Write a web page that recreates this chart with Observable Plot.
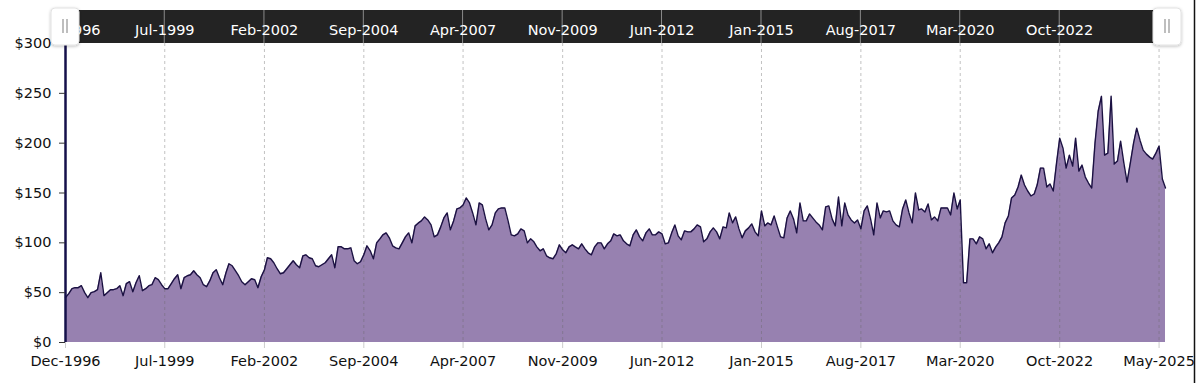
<!DOCTYPE html>
<html><head><meta charset="utf-8">
<script src="https://cdn.jsdelivr.net/npm/d3@7"></script>
<script src="https://cdn.jsdelivr.net/npm/@observablehq/plot@0.6"></script>
<style>
html,body{margin:0;padding:0;background:#fff;}
#chart{position:relative;width:1200px;height:383px;overflow:hidden;}
</style></head><body><div id="chart"></div>
<script>
// Monthly series, first month Dec-1996
const startMonth = "1996-12";
const values = [
45,49,54,55,55,57,50,45,50,51,53,70,47,50,53,53,54,57,47,59,
61,51,60,67,52,54,57,58,65,63,58,54,54,59,64,68,54,65,67,68,
72,68,65,58,56,62,70,73,65,58,70,79,77,72,67,61,58,61,64,63,
55,66,73,85,84,80,74,69,70,74,78,82,78,75,87,88,85,84,77,76,
78,80,84,88,75,96,96,94,94,95,82,79,81,88,97,92,84,100,104,108,
110,105,97,95,94,100,106,110,100,117,120,122,126,123,118,106,108,116,125,130,
113,122,134,135,138,145,140,130,118,140,138,124,113,118,130,134,135,135,122,108,
107,109,114,112,100,104,101,96,92,94,87,85,84,89,98,93,90,96,98,96,
94,99,94,90,88,96,100,100,94,99,102,109,107,108,102,99,97,108,113,106,
102,110,114,108,108,111,109,99,100,110,118,107,103,112,111,111,114,118,116,101,
104,111,115,111,104,116,115,130,120,126,114,105,112,115,119,111,107,132,117,120,
118,127,116,106,105,125,132,124,110,140,122,122,129,125,121,118,113,136,137,124,
117,146,117,140,128,123,120,123,114,132,137,124,108,140,125,132,131,132,122,118,
116,134,143,130,120,150,133,134,131,139,123,126,122,135,135,135,128,150,134,143,
60,60,104,104,99,106,104,94,99,90,96,100,106,120,127,145,148,156,168,158,
152,147,149,158,175,175,156,159,152,180,205,195,175,188,177,205,172,178,166,160,
155,200,232,247,188,190,247,179,182,202,180,161,180,200,215,203,193,189,186,184,
190,197,164,155
];
const tickLabels = ["Dec-1996","Jul-1999","Feb-2002","Sep-2004","Apr-2007","Nov-2009","Jun-2012","Jan-2015","Aug-2017","Mar-2020","Oct-2022","May-2025"];
const topTickLabels = tickLabels.slice(0, -1);
const yTicks = [0, 50, 100, 150, 200, 250, 300];

const parseTick = d3.utcParse("%b-%Y");
const fmtTick = d3.utcFormat("%b-%Y");
const start = d3.utcParse("%Y-%m")(startMonth);
const data = values.map((v, i) => ({date: d3.utcMonth.offset(start, i), value: v}));
const tickDates = tickLabels.map(parseTick);
const topTickDates = topTickLabels.map(parseTick);

const fillColor = "#9781b0", lineColor = "#1b1142";

const plot = Plot.plot({
  width: 1200, height: 383,
  marginTop: 43, marginBottom: 41, marginLeft: 65, marginRight: 35,
  style: {fontFamily: "'DejaVu Sans', Verdana, sans-serif", fontSize: "14.5px", color: "#111", background: "transparent"},
  x: {type: "utc", domain: [data[0].date, data[data.length - 1].date]},
  y: {domain: [0, 300]},
  marks: [
    Plot.areaY(data, {x: "date", y: "value", fill: fillColor}),
    Plot.ruleX(tickDates, {stroke: "#666", strokeOpacity: 0.4, strokeDasharray: "3,3"}),
    Plot.lineY(data, {x: "date", y: "value", stroke: lineColor, strokeWidth: 1.4}),
    Plot.ruleX([data[0].date], {stroke: "#15104a", strokeWidth: 2.5}),
    Plot.axisX({ticks: tickDates, tickFormat: fmtTick, tickSize: 6, tickPadding: 7, stroke: "#ccc", fill: "#111", label: null}),
    Plot.axisY({ticks: yTicks, tickFormat: d => "$" + d, tickSize: 6, tickPadding: 8, stroke: "#333", fill: "#111", label: null}),
    Plot.axisX({anchor: "top", ticks: topTickDates, tickFormat: fmtTick, tickSize: 0, tickPadding: 9, fill: "white", label: null})
  ]
});

document.getElementById("chart").appendChild(plot);

// navigator decorations
const svg = d3.select(plot);
const xs = plot.scale("x");
const x0 = xs.apply(data[0].date), x1 = xs.apply(data[data.length - 1].date);
const bg = svg.insert("g", ":first-child");
bg.append("rect").attr("x", x0).attr("y", 10).attr("width", x1 - x0).attr("height", 33).attr("fill", "#232323");
bg.selectAll("line").data(topTickDates).join("line")
  .attr("x1", d => xs.apply(d)).attr("x2", d => xs.apply(d))
  .attr("y1", 10).attr("y2", 43).attr("stroke", "#8a8a8a").attr("stroke-width", 1);

const defs = svg.append("defs");
const f = defs.append("filter").attr("id", "sh").attr("x", "-30%").attr("y", "-30%").attr("width", "160%").attr("height", "160%");
f.append("feDropShadow").attr("dx", 0).attr("dy", 1).attr("stdDeviation", 1.5).attr("flood-color", "#000").attr("flood-opacity", 0.25);

[x0, x1 + 2].forEach(cx => {
  const g = svg.append("g");
  g.append("rect").attr("x", cx - 14).attr("y", 8).attr("width", 28).attr("height", 37).attr("rx", 4)
    .attr("fill", "#fff").attr("stroke", "#e2e2e2").attr("filter", "url(#sh)");
  [-2, 2].forEach(dx => g.append("line").attr("x1", cx + dx).attr("x2", cx + dx).attr("y1", 19).attr("y2", 33)
    .attr("stroke", "#a8a8a8").attr("stroke-width", 1.5));
});
svg.append("line").attr("x1", 1194.5).attr("x2", 1194.5).attr("y1", 0).attr("y2", 383).attr("stroke", "#111").attr("stroke-width", 1.5);
</script></body></html>
